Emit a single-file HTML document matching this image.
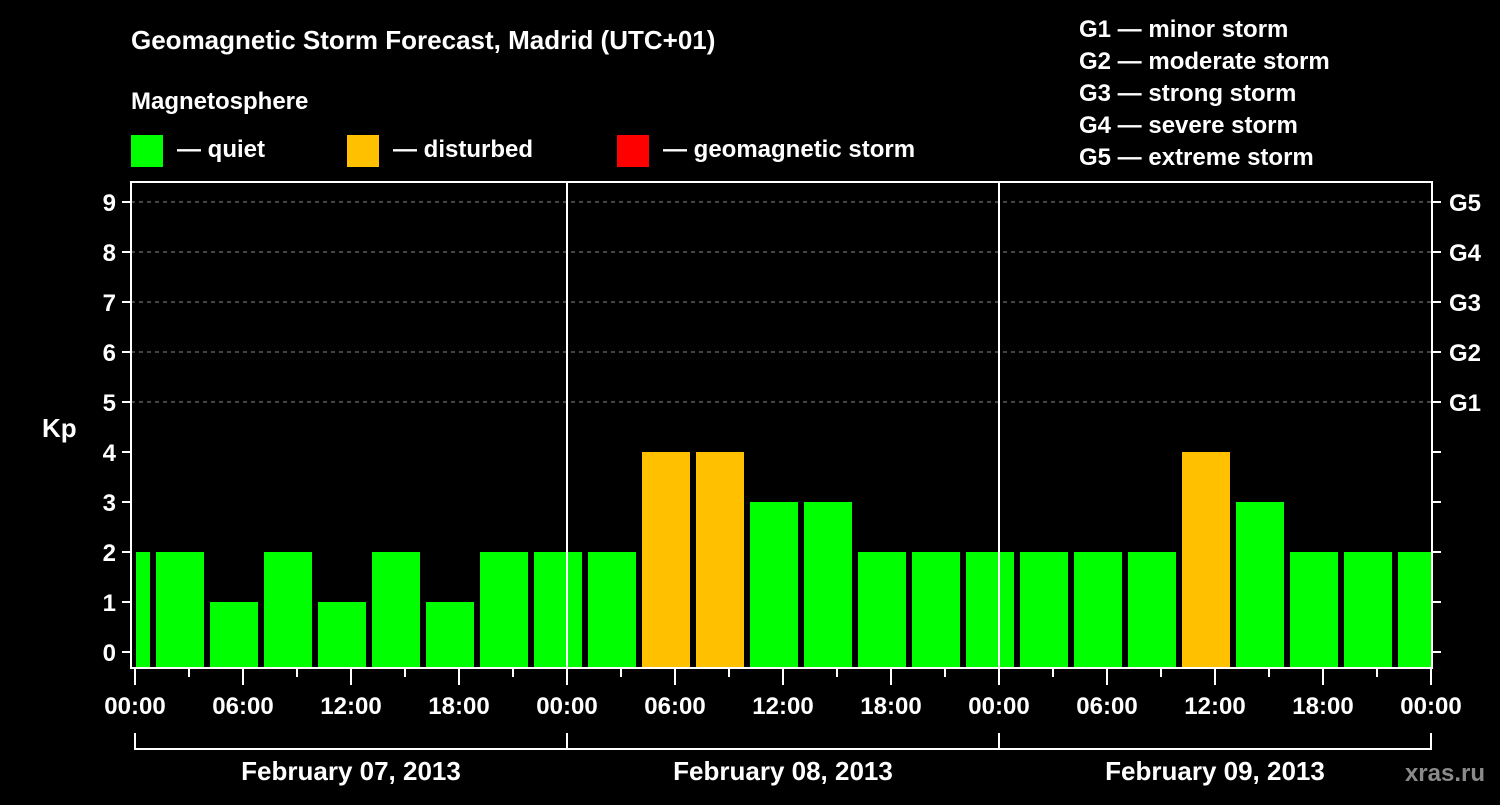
<!DOCTYPE html>
<html><head><meta charset="utf-8"><style>
body{margin:0;background:#000;width:1500px;height:800px;overflow:hidden}
text{font-family:"Liberation Sans",Arial,sans-serif;font-weight:bold;fill:#fff}
</style></head><body>
<svg id="chart" width="1500" height="800" viewBox="0 0 1500 800" xmlns="http://www.w3.org/2000/svg">
<rect width="1500" height="800" fill="#000"/>
<text x="131" y="49" font-size="26">Geomagnetic Storm Forecast, Madrid (UTC+01)</text>
<text x="131" y="109" font-size="24">Magnetosphere</text>
<g>
<rect x="131" y="135" width="32" height="32" fill="#00ff00"/>
<text x="177" y="157" font-size="24">— quiet</text>
<rect x="347" y="135" width="32" height="32" fill="#ffc000"/>
<text x="393" y="157" font-size="24">— disturbed</text>
<rect x="617" y="135" width="32" height="32" fill="#ff0000"/>
<text x="663" y="157" font-size="24">— geomagnetic storm</text>
</g>
<g font-size="24">
<text x="1079" y="37">G1 — minor storm</text>
<text x="1079" y="69">G2 — moderate storm</text>
<text x="1079" y="101">G3 — strong storm</text>
<text x="1079" y="133">G4 — severe storm</text>
<text x="1079" y="165">G5 — extreme storm</text>
</g>
<text x="42" y="437" font-size="26">Kp</text>
<text x="1485" y="781" font-size="24" text-anchor="end" fill="#888" style="fill:#8a8a8a">xras.ru</text>
<g id="grid"></g>
<g id="bars"></g>
<g id="axes"></g>
</svg>
<script>
// Kp values for 3-hour UTC blocks, starting at 2013-02-06 22:00 UTC+01
const kpValues = [2, 2,1,2,1,2,1,2,2, 2,4,4,3,3,2,2,2, 2,2,2,4,3,2,2,2];
const yTicks = [0,1,2,3,4,5,6,7,8,9];
const gLabels = ["G1","G2","G3","G4","G5"];
const gLevels = [5,6,7,8,9];
const xTickLabels = ["00:00","06:00","12:00","18:00","00:00","06:00","12:00","18:00","00:00","06:00","12:00","18:00","00:00"];
const dayLabels = ["February 07, 2013","February 08, 2013","February 09, 2013"];
const firstBarStartHour = -2;

const NS="http://www.w3.org/2000/svg";
const L=131,R=1432,T=182,B=668,X0=135,PX_H=18;
const xs=h=>X0+h*PX_H;
const ys=v=>652-v*50;
function mk(tag,attrs,parent){const e=document.createElementNS(NS,tag);for(const k in attrs)e.setAttribute(k,attrs[k]);parent.appendChild(e);return e;}
const grid=document.getElementById('grid'),bars=document.getElementById('bars'),axes=document.getElementById('axes');

yTicks.forEach(v=>{
  if(v>=5){const g=mk('line',{x1:L,x2:R,y1:ys(v),y2:ys(v),stroke:'#888','stroke-width':1,'stroke-dasharray':'4,4'},grid);
  
  }
  const t=mk('line',{x1:L-9,x2:L,y1:ys(v),y2:ys(v),stroke:'#fff','stroke-width':2},axes);
  
  
  const t2=mk('line',{x1:R,x2:R+9,y1:ys(v),y2:ys(v),stroke:'#fff','stroke-width':2},axes);
  
  
  const lb=mk('text',{x:L-15,y:ys(v)+9,'font-size':24,'text-anchor':'end'},axes);lb.textContent=v;
  
  
});
gLabels.forEach((g,i)=>{
  const lb=mk('text',{x:R+17,y:ys(gLevels[i])+9,'font-size':24},axes);lb.textContent=g;
  
  
});
kpValues.forEach((v,i)=>{
  const s=firstBarStartHour+i*3,e=s+3;
  const x1=Math.max(xs(s)+3,X0+1),x2=Math.min(xs(e)-3,xs(72));
  const col=v>=5?'#ff0000':(v>=4?'#ffc000':'#00ff00');
  const r=mk('rect',{x:x1,y:ys(v),width:x2-x1,height:B-ys(v),fill:col},bars);
  
  
});
// day separators
[24,48].forEach(h=>{const l=mk('line',{x1:xs(h),x2:xs(h),y1:T,y2:B,stroke:'#fff','stroke-width':2},axes);
  
  });
const fr=mk('rect',{x:L,y:T,width:R-L,height:B-T,fill:'none',stroke:'#fff','stroke-width':2},axes);


for(let h=0;h<=72;h+=3){
  const major=h%6===0;
  const l=mk('line',{x1:xs(h),x2:xs(h),y1:B,y2:B+(major?17:9),stroke:'#fff','stroke-width':2},axes);
  
  
}
xTickLabels.forEach((s,i)=>{
  const lb=mk('text',{x:xs(i*6),y:714,'font-size':24,'text-anchor':'middle'},axes);lb.textContent=s;
  
  
});
dayLabels.forEach((d,i)=>{
  const p=mk('path',{d:`M${xs(i*24)},733V749H${xs(i*24+24)}V733`,fill:'none',stroke:'#fff','stroke-width':2},axes);
  
  
  const lb=mk('text',{x:xs(i*24+12),y:780,'font-size':26,'text-anchor':'middle'},axes);lb.textContent=d;
  
  
});
</script>
</body></html>
